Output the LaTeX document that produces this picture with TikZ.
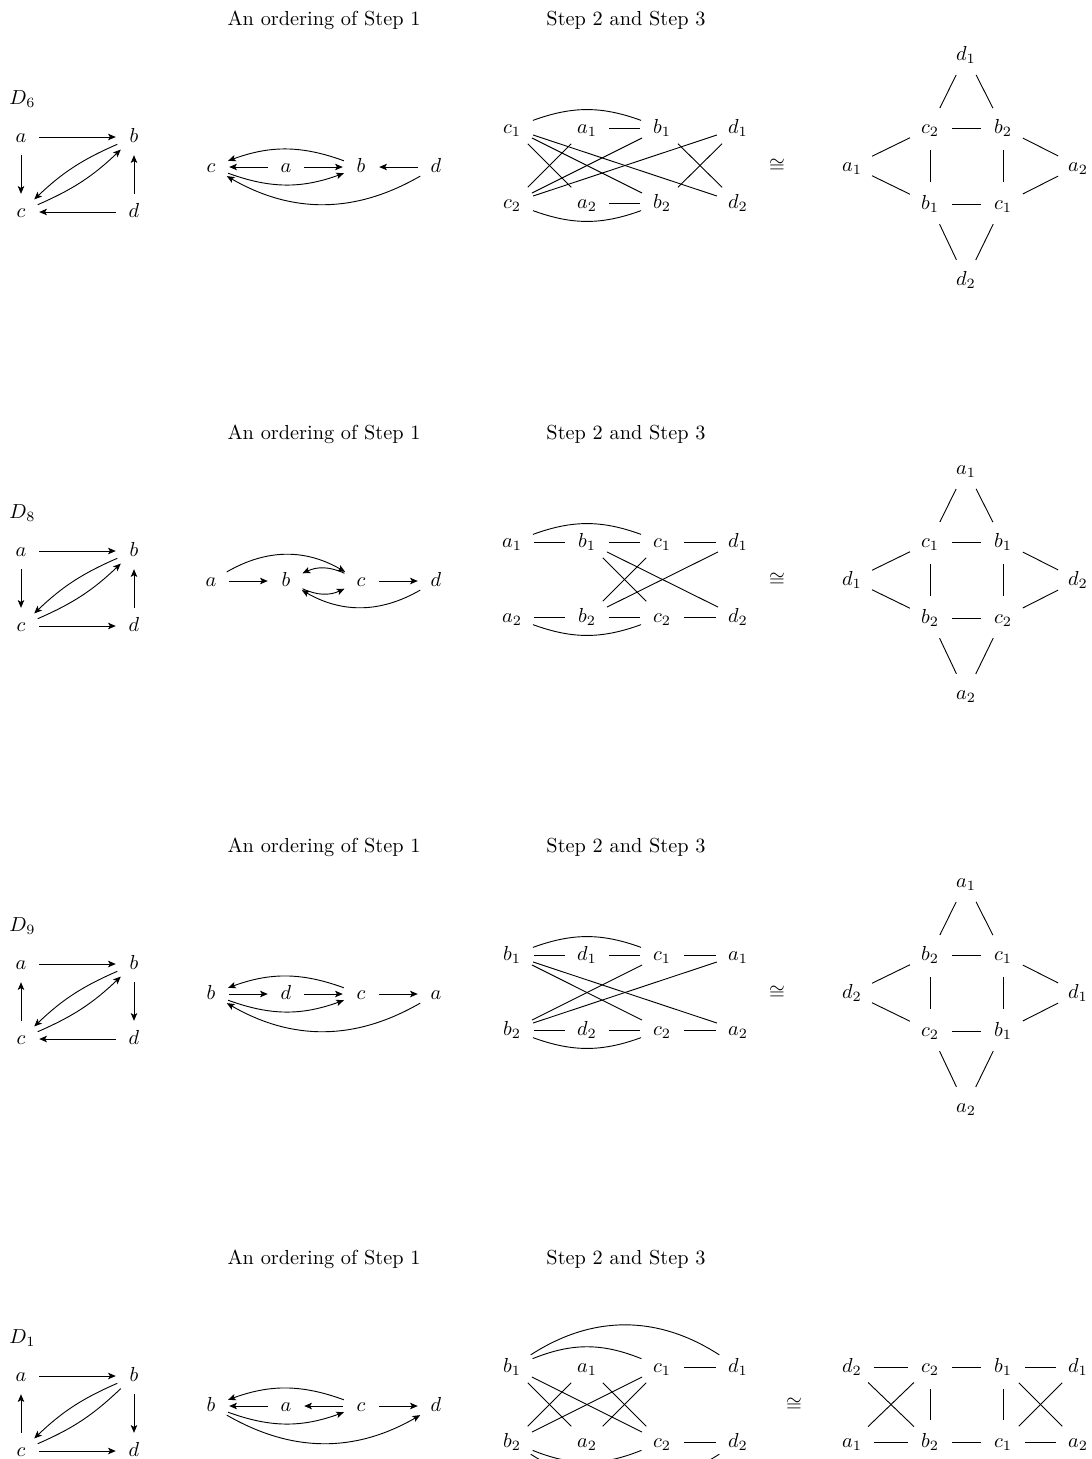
\documentclass[tikz,border=0pt]{standalone}
\usetikzlibrary{arrows.meta}
\begin{document}
\begin{tikzpicture}[x=0.4926pt,y=0.4926pt,line width=0.45pt,
  sv/.style={circle,minimum size=17.5pt,inner sep=0pt,text height=1.5ex,text depth=.25ex},
  gv/.style={circle,minimum size=21.5pt,inner sep=0pt,text height=1.5ex,text depth=.25ex},
  arr/.style={-{Stealth[length=3.8pt,width=3.2pt,inset=0.9pt]}},
  hd/.style={inner sep=0pt}]
\path[use as bounding box] (0,0) rectangle (1092,-1459);
\clip (0,0) rectangle (1092,-1459);

% ================= Panel D6 =================
\begin{scope}
\node[hd] (Ah1) at (324,-20) {An ordering of Step 1};
\node[hd] (Ah2) at (626,-20) {Step 2 and Step 3};
\node[hd,anchor=west] (Alab) at (9,-99) {$D_6$};
\node[sv] (Aa) at (21,-137) {$a$};
\node[sv] (Ab) at (134,-137) {$b$};
\node[sv] (Ac) at (21,-212) {$c$};
\node[sv] (Ad) at (134,-212) {$d$};
\draw[arr] (Aa) -- (Ab);
\draw[arr] (Aa) -- (Ac);
\draw[arr] (Ad) -- (Ab);
\draw[arr] (Ad) -- (Ac);
\draw[arr] (Ab) to[bend right=10] (Ac);
\draw[arr] (Ac) to[bend right=10] (Ab);
\node[sv] (Aoc) at (211,-167) {$c$};
\node[sv] (Aoa) at (286,-167) {$a$};
\node[sv] (Aob) at (361,-167) {$b$};
\node[sv] (Aod) at (436,-167) {$d$};
\draw[arr] (Aoa) -- (Aoc);
\draw[arr] (Aoa) -- (Aob);
\draw[arr] (Aod) -- (Aob);
\draw[arr] (Aob) to[bend right=20] (Aoc);
\draw[arr] (Aoc) to[bend right=20] (Aob);
\draw[arr] (Aod) to[bend left=30] (Aoc);
\node[gv] (Ac1) at (512,-128) {$c_1$};
\node[gv] (Aa1) at (587,-128) {$a_1$};
\node[gv] (Ab1) at (662,-128) {$b_1$};
\node[gv] (Ad1) at (738,-128) {$d_1$};
\node[gv] (Ac2) at (512,-203) {$c_2$};
\node[gv] (Aa2) at (587,-203) {$a_2$};
\node[gv] (Ab2) at (662,-203) {$b_2$};
\node[gv] (Ad2) at (738,-203) {$d_2$};
\draw (Ac1) to[bend left=20] (Ab1);
\draw (Aa1) -- (Ab1);
\draw (Ac1) -- (Ab2);
\draw (Ac1) -- (Ad2);
\draw (Ac1) -- (Aa2);
\draw (Ac2) -- (Aa1);
\draw (Ac2) -- (Ab1);
\draw (Ac2) -- (Ad1);
\draw (Ad1) -- (Ab2);
\draw (Ab1) -- (Ad2);
\draw (Aa2) -- (Ab2);
\draw (Ac2) to[bend right=20] (Ab2);
\node (Aiso) at (777,-166) {$\cong$};
\node[gv] (ARt) at (966,-55) {$d_1$};
\node[gv] (ARul) at (930,-128) {$c_2$};
\node[gv] (ARur) at (1003,-128) {$b_2$};
\node[gv] (ARl) at (852,-166) {$a_1$};
\node[gv] (ARr) at (1078,-166) {$a_2$};
\node[gv] (ARll) at (930,-204) {$b_1$};
\node[gv] (ARlr) at (1003,-204) {$c_1$};
\node[gv] (ARb) at (966,-280) {$d_2$};
\draw (ARt) -- (ARul);
\draw (ARt) -- (ARur);
\draw (ARul) -- (ARur);
\draw (ARul) -- (ARl);
\draw (ARul) -- (ARll);
\draw (ARur) -- (ARr);
\draw (ARur) -- (ARlr);
\draw (ARl) -- (ARll);
\draw (ARr) -- (ARlr);
\draw (ARll) -- (ARlr);
\draw (ARll) -- (ARb);
\draw (ARlr) -- (ARb);
\end{scope}

% ================= Panel D8 =================
\begin{scope}[shift={(0,-414)}]
\node[hd] (Bh1) at (324,-20) {An ordering of Step 1};
\node[hd] (Bh2) at (626,-20) {Step 2 and Step 3};
\node[hd,anchor=west] (Blab) at (9,-99) {$D_8$};
\node[sv] (Ba) at (21,-137) {$a$};
\node[sv] (Bb) at (134,-137) {$b$};
\node[sv] (Bc) at (21,-212) {$c$};
\node[sv] (Bd) at (134,-212) {$d$};
\draw[arr] (Ba) -- (Bb);
\draw[arr] (Ba) -- (Bc);
\draw[arr] (Bd) -- (Bb);
\draw[arr] (Bc) -- (Bd);
\draw[arr] (Bb) to[bend right=10] (Bc);
\draw[arr] (Bc) to[bend right=10] (Bb);
\node[sv] (Boa) at (211,-167) {$a$};
\node[sv] (Bob) at (286,-167) {$b$};
\node[sv] (Boc) at (361,-167) {$c$};
\node[sv] (Bod) at (436,-167) {$d$};
\draw[arr] (Boa) -- (Bob);
\draw[arr] (Boa) to[bend left=30] (Boc);
\draw[arr] (Boc) to[bend right=25] (Bob);
\draw[arr] (Bob) to[bend right=25] (Boc);
\draw[arr] (Boc) -- (Bod);
\draw[arr] (Bod) to[bend left=30] (Bob);
\node[gv] (Ba1) at (512,-128) {$a_1$};
\node[gv] (Bb1) at (587,-128) {$b_1$};
\node[gv] (Bc1) at (662,-128) {$c_1$};
\node[gv] (Bd1) at (738,-128) {$d_1$};
\node[gv] (Ba2) at (512,-203) {$a_2$};
\node[gv] (Bb2) at (587,-203) {$b_2$};
\node[gv] (Bc2) at (662,-203) {$c_2$};
\node[gv] (Bd2) at (738,-203) {$d_2$};
\draw (Ba1) -- (Bb1);
\draw (Bb1) -- (Bc1);
\draw (Bc1) -- (Bd1);
\draw (Ba1) to[bend left=20] (Bc1);
\draw (Ba2) -- (Bb2);
\draw (Bb2) -- (Bc2);
\draw (Bc2) -- (Bd2);
\draw (Ba2) to[bend right=20] (Bc2);
\draw (Bb1) -- (Bc2);
\draw (Bb1) -- (Bd2);
\draw (Bc1) -- (Bb2);
\draw (Bd1) -- (Bb2);
\node (Biso) at (777,-166) {$\cong$};
\node[gv] (BRt) at (966,-55) {$a_1$};
\node[gv] (BRul) at (930,-128) {$c_1$};
\node[gv] (BRur) at (1003,-128) {$b_1$};
\node[gv] (BRl) at (852,-166) {$d_1$};
\node[gv] (BRr) at (1078,-166) {$d_2$};
\node[gv] (BRll) at (930,-204) {$b_2$};
\node[gv] (BRlr) at (1003,-204) {$c_2$};
\node[gv] (BRb) at (966,-280) {$a_2$};
\draw (BRt) -- (BRul);
\draw (BRt) -- (BRur);
\draw (BRul) -- (BRur);
\draw (BRul) -- (BRl);
\draw (BRul) -- (BRll);
\draw (BRur) -- (BRr);
\draw (BRur) -- (BRlr);
\draw (BRl) -- (BRll);
\draw (BRr) -- (BRlr);
\draw (BRll) -- (BRlr);
\draw (BRll) -- (BRb);
\draw (BRlr) -- (BRb);
\end{scope}

% ================= Panel D9 =================
\begin{scope}[shift={(0,-827)}]
\node[hd] (Ch1) at (324,-20) {An ordering of Step 1};
\node[hd] (Ch2) at (626,-20) {Step 2 and Step 3};
\node[hd,anchor=west] (Clab) at (9,-99) {$D_9$};
\node[sv] (Ca) at (21,-137) {$a$};
\node[sv] (Cb) at (134,-137) {$b$};
\node[sv] (Cc) at (21,-212) {$c$};
\node[sv] (Cd) at (134,-212) {$d$};
\draw[arr] (Ca) -- (Cb);
\draw[arr] (Cc) -- (Ca);
\draw[arr] (Cb) -- (Cd);
\draw[arr] (Cd) -- (Cc);
\draw[arr] (Cb) to[bend right=10] (Cc);
\draw[arr] (Cc) to[bend right=10] (Cb);
\node[sv] (Cob) at (211,-167) {$b$};
\node[sv] (Cod) at (286,-167) {$d$};
\node[sv] (Coc) at (361,-167) {$c$};
\node[sv] (Coa) at (436,-167) {$a$};
\draw[arr] (Coc) to[bend right=20] (Cob);
\draw[arr] (Cob) -- (Cod);
\draw[arr] (Cod) -- (Coc);
\draw[arr] (Cob) to[bend right=20] (Coc);
\draw[arr] (Coc) -- (Coa);
\draw[arr] (Coa) to[bend left=30] (Cob);
\node[gv] (Cb1) at (512,-128) {$b_1$};
\node[gv] (Cd1) at (587,-128) {$d_1$};
\node[gv] (Cc1) at (662,-128) {$c_1$};
\node[gv] (Ca1) at (738,-128) {$a_1$};
\node[gv] (Cb2) at (512,-203) {$b_2$};
\node[gv] (Cd2) at (587,-203) {$d_2$};
\node[gv] (Cc2) at (662,-203) {$c_2$};
\node[gv] (Ca2) at (738,-203) {$a_2$};
\draw (Cb1) -- (Cd1);
\draw (Cd1) -- (Cc1);
\draw (Cc1) -- (Ca1);
\draw (Cb1) to[bend left=20] (Cc1);
\draw (Cb2) -- (Cd2);
\draw (Cd2) -- (Cc2);
\draw (Cc2) -- (Ca2);
\draw (Cb2) to[bend right=20] (Cc2);
\draw (Cb1) -- (Cc2);
\draw (Cb1) -- (Ca2);
\draw (Cc1) -- (Cb2);
\draw (Ca1) -- (Cb2);
\node (Ciso) at (777,-166) {$\cong$};
\node[gv] (CRt) at (966,-55) {$a_1$};
\node[gv] (CRul) at (930,-128) {$b_2$};
\node[gv] (CRur) at (1003,-128) {$c_1$};
\node[gv] (CRl) at (852,-166) {$d_2$};
\node[gv] (CRr) at (1078,-166) {$d_1$};
\node[gv] (CRll) at (930,-204) {$c_2$};
\node[gv] (CRlr) at (1003,-204) {$b_1$};
\node[gv] (CRb) at (966,-280) {$a_2$};
\draw (CRt) -- (CRul);
\draw (CRt) -- (CRur);
\draw (CRul) -- (CRur);
\draw (CRul) -- (CRl);
\draw (CRul) -- (CRll);
\draw (CRur) -- (CRr);
\draw (CRur) -- (CRlr);
\draw (CRl) -- (CRll);
\draw (CRr) -- (CRlr);
\draw (CRll) -- (CRlr);
\draw (CRll) -- (CRb);
\draw (CRlr) -- (CRb);
\end{scope}

% ================= Panel D1 =================
\begin{scope}[shift={(0,-1239)}]
\node[hd] (Eh1) at (324,-20) {An ordering of Step 1};
\node[hd] (Eh2) at (626,-20) {Step 2 and Step 3};
\node[hd,anchor=west] (Elab) at (9,-99) {$D_1$};
\node[sv] (Ea) at (21,-137) {$a$};
\node[sv] (Eb) at (134,-137) {$b$};
\node[sv] (Ec) at (21,-212) {$c$};
\node[sv] (Ed) at (134,-212) {$d$};
\draw[arr] (Ea) -- (Eb);
\draw[arr] (Ec) -- (Ea);
\draw[arr] (Eb) -- (Ed);
\draw[arr] (Ec) -- (Ed);
\draw[arr] (Eb) to[bend right=10] (Ec);
\draw (Ec) to[bend right=10] (Eb);
\node[sv] (Eob) at (211,-167) {$b$};
\node[sv] (Eoa) at (286,-167) {$a$};
\node[sv] (Eoc) at (361,-167) {$c$};
\node[sv] (Eod) at (436,-167) {$d$};
\draw[arr] (Eoc) to[bend right=20] (Eob);
\draw[arr] (Eoa) -- (Eob);
\draw[arr] (Eoc) -- (Eoa);
\draw[arr] (Eob) to[bend right=20] (Eoc);
\draw[arr] (Eoc) -- (Eod);
\draw[arr] (Eob) to[bend right=30] (Eod);
\node[gv] (Eb1) at (512,-128) {$b_1$};
\node[gv] (Ea1) at (587,-128) {$a_1$};
\node[gv] (Ec1) at (662,-128) {$c_1$};
\node[gv] (Ed1) at (738,-128) {$d_1$};
\node[gv] (Eb2) at (512,-203) {$b_2$};
\node[gv] (Ea2) at (587,-203) {$a_2$};
\node[gv] (Ec2) at (662,-203) {$c_2$};
\node[gv] (Ed2) at (738,-203) {$d_2$};
\draw (Eb1) to[bend left=33] (Ed1);
\draw (Eb1) to[bend left=22] (Ec1);
\draw (Ec1) -- (Ed1);
\draw (Ec2) -- (Ed2);
\draw (Eb1) -- (Ea2);
\draw (Eb1) -- (Ec2);
\draw (Eb2) -- (Ea1);
\draw (Eb2) -- (Ec1);
\draw (Ea1) -- (Ec2);
\draw (Ea2) -- (Ec1);
\draw (Eb2) to[bend right=22] (Ec2);
\draw (Eb2) to[bend right=33] (Ed2);
\node (Eiso) at (794,-166) {$\cong$};
\node[gv] (ERd2) at (852,-128) {$d_2$};
\node[gv] (ERc2) at (930,-128) {$c_2$};
\node[gv] (ERb1) at (1003,-128) {$b_1$};
\node[gv] (ERd1) at (1078,-128) {$d_1$};
\node[gv] (ERa1) at (852,-203) {$a_1$};
\node[gv] (ERb2) at (930,-203) {$b_2$};
\node[gv] (ERc1) at (1003,-203) {$c_1$};
\node[gv] (ERa2) at (1078,-203) {$a_2$};
\draw (ERd2) -- (ERc2);
\draw (ERc2) -- (ERb1);
\draw (ERb1) -- (ERd1);
\draw (ERa1) -- (ERb2);
\draw (ERb2) -- (ERc1);
\draw (ERc1) -- (ERa2);
\draw (ERd2) -- (ERb2);
\draw (ERa1) -- (ERc2);
\draw (ERc2) -- (ERb2);
\draw (ERb1) -- (ERc1);
\draw (ERb1) -- (ERa2);
\draw (ERd1) -- (ERc1);
\end{scope}
\end{tikzpicture}
\end{document}
